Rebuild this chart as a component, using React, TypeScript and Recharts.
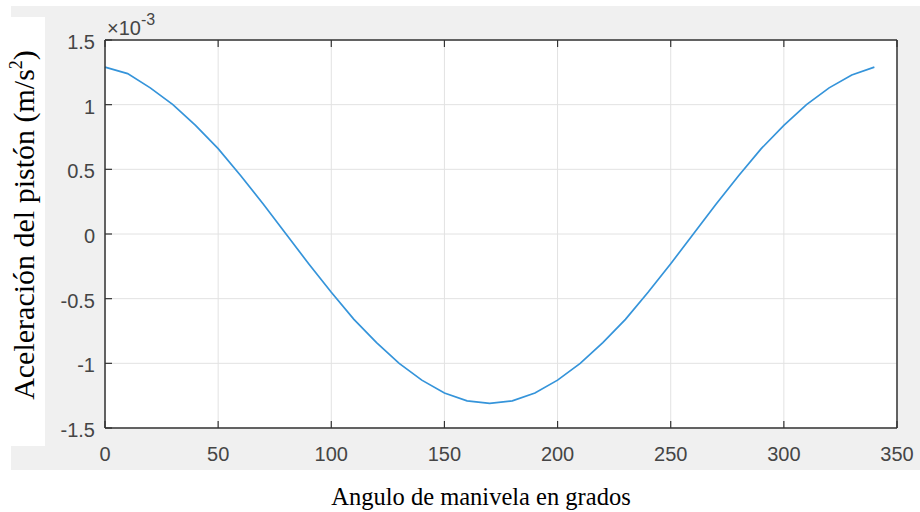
import React from 'react'
import { LineChart, Line, XAxis, YAxis, CartesianGrid } from 'recharts'

// crank angle in degrees, sampled every 10°
const angles = [
  0, 10, 20, 30, 40, 50, 60, 70, 80, 90, 100, 110, 120, 130, 140, 150, 160, 170,
  180, 190, 200, 210, 220, 230, 240, 250, 260, 270, 280, 290, 300, 310, 320, 330, 340,
]

// piston acceleration, in units of 1e-3 m/s^2
const accel = [
  1.29, 1.24, 1.13, 1.0, 0.84, 0.66, 0.45, 0.23, 0.0, -0.23, -0.45, -0.66, -0.84, -1.0,
  -1.13, -1.23, -1.29, -1.31, -1.29, -1.23, -1.13, -1.0, -0.84, -0.66, -0.45, -0.23, 0.0,
  0.23, 0.45, 0.66, 0.84, 1.0, 1.13, 1.23, 1.29,
]

const xTicks = [0, 50, 100, 150, 200, 250, 300, 350]
const yTicks = [-1.5, -1, -0.5, 0, 0.5, 1, 1.5]

const data = angles.map((angle, i) => ({ angle, accel: accel[i] }))

const W = 920
const H = 512
const axisColor = '#333333'
const labelColor = '#454545'
const sansFont = "'Liberation Sans', Arial, Helvetica, sans-serif"
const serifFont = "'Liberation Serif', 'Times New Roman', serif"
const tickLen = 7
const tickFont = 20

type TickProps = {
  x?: number
  y?: number
  payload?: { value: number }
}

function BottomTick({ x = 0, y = 0, payload }: TickProps) {
  return (
    <g>
      <line x1={x} x2={x} y1={y} y2={y - tickLen} stroke={axisColor} strokeWidth={1.2} />
      <text
        x={x}
        y={y + 26}
        textAnchor="middle"
        dominantBaseline="central"
        fontFamily={sansFont}
        fontSize={tickFont}
        fill={labelColor}
      >
        {payload?.value}
      </text>
    </g>
  )
}

function TopTick({ x = 0, y = 0 }: TickProps) {
  return <line x1={x} x2={x} y1={y} y2={y + tickLen} stroke={axisColor} strokeWidth={1.2} />
}

function LeftTick({ x = 0, y = 0, payload }: TickProps) {
  return (
    <g>
      <line x1={x} x2={x + tickLen} y1={y} y2={y} stroke={axisColor} strokeWidth={1.2} />
      <text
        x={x - 10}
        y={y + 2}
        textAnchor="end"
        dominantBaseline="central"
        fontFamily={sansFont}
        fontSize={tickFont}
        fill={labelColor}
      >
        {payload?.value}
      </text>
    </g>
  )
}

function RightTick({ x = 0, y = 0 }: TickProps) {
  return <line x1={x} x2={x - tickLen} y1={y} y2={y} stroke={axisColor} strokeWidth={1.2} />
}

export default function App() {
  return (
    <div style={{ position: 'absolute', left: 0, top: 0, width: W, height: H, background: '#fff' }}>
      {/* MATLAB figure background */}
      <div style={{ position: 'absolute', left: 11, top: 6, width: 909, height: 464, background: '#f0f0f0' }} />
      <div style={{ position: 'absolute', left: 0, top: 17, width: 45, height: 429, background: '#fff' }} />

      <div style={{ position: 'absolute', left: 0, top: 0 }}>
        <LineChart width={W} height={H} data={data} margin={{ top: 0, right: 0, bottom: 0, left: 0 }}>
          <CartesianGrid
            fill="#ffffff"
            stroke="#e2e2e2"
            strokeWidth={1}
            horizontalValues={yTicks}
            verticalValues={xTicks}
          />
          <XAxis
            dataKey="angle"
            type="number"
            domain={[0, 350]}
            ticks={xTicks}
            interval={0}
            height={84}
            tickSize={0}
            tickMargin={0}
            tickLine={false}
            axisLine={{ stroke: axisColor, strokeWidth: 1.5 }}
            tick={<BottomTick />}
          />
          <XAxis
            xAxisId="top"
            orientation="top"
            dataKey="angle"
            type="number"
            domain={[0, 350]}
            ticks={xTicks}
            interval={0}
            height={40}
            tickSize={0}
            tickMargin={0}
            tickLine={false}
            axisLine={{ stroke: axisColor, strokeWidth: 1.5 }}
            tick={<TopTick />}
          />
          <YAxis
            type="number"
            domain={[-1.5, 1.5]}
            ticks={yTicks}
            interval={0}
            width={105}
            tickSize={0}
            tickMargin={0}
            tickLine={false}
            axisLine={{ stroke: axisColor, strokeWidth: 1.5 }}
            tick={<LeftTick />}
          />
          <YAxis
            yAxisId="right"
            orientation="right"
            type="number"
            domain={[-1.5, 1.5]}
            ticks={yTicks}
            interval={0}
            width={23}
            tickSize={0}
            tickMargin={0}
            tickLine={false}
            axisLine={{ stroke: axisColor, strokeWidth: 1.5 }}
            tick={<RightTick />}
          />
          <Line
            type="linear"
            dataKey="accel"
            stroke="#3594da"
            strokeWidth={1.7}
            dot={false}
            activeDot={false}
            isAnimationActive={false}
          />
        </LineChart>
      </div>

      {/* titles and exponent */}
      <svg width={W} height={H} style={{ position: 'absolute', left: 0, top: 0, pointerEvents: 'none' }}>
        <text x={107} y={35} fontFamily={sansFont} fontSize={20} fill={labelColor}>
          ×10
          <tspan dy={-10} fontSize={16}>
            -3
          </tspan>
        </text>
        <text
          transform="translate(34,225) rotate(-90)"
          textAnchor="middle"
          fontFamily={serifFont}
          fontSize={30}
          fill="#000"
        >
          Aceleración del pistón (m/s
          <tspan dy={-12} fontSize={18}>
            2
          </tspan>
          <tspan dy={12}>)</tspan>
        </text>
        <text x={481} y={505} textAnchor="middle" fontFamily={serifFont} fontSize={24.5} fill="#000">
          Angulo de manivela en grados
        </text>
      </svg>
    </div>
  )
}
